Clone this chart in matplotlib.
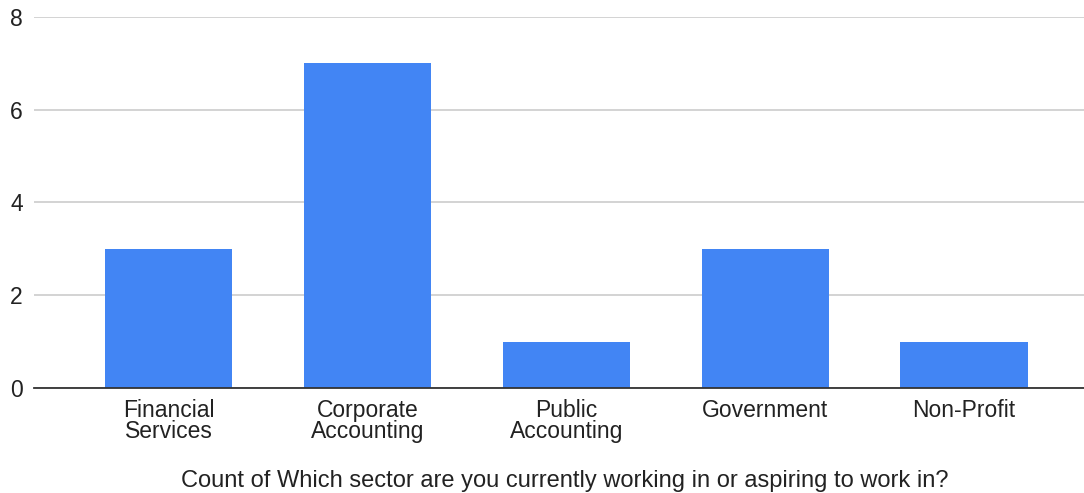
import matplotlib
matplotlib.use("Agg")
import matplotlib.pyplot as plt

# sector counts from the survey
sectors = ["Financial\nServices", "Corporate\nAccounting", "Public\nAccounting",
           "Government", "Non-Profit"]
counts = [3, 7, 1, 3, 1]
yticks = [0, 2, 4, 6, 8]
xtitle = "Count of Which sector are you currently working in or aspiring to work in?"

plt.rcParams["font.family"] = ["Liberation Sans", "DejaVu Sans"]

fig = plt.figure(figsize=(10.84, 4.93), dpi=100)
ax = fig.add_axes([0.0314, 0.213, 0.9686, 0.7525])

x = range(len(sectors))
ax.bar(x, counts, width=0.64, color="#4285F4", zorder=3)

ax.set_xlim(-0.676, 4.603)
ax.set_ylim(0, 8)
ax.set_yticks(yticks)
ax.grid(axis="y", color="#cccccc", linewidth=1.2, zorder=0)

ax.set_xticks(list(x))
ax.set_xticklabels(sectors, fontsize=16.5, color="#222222", linespacing=0.9)
ax.tick_params(axis="x", length=0, pad=8)
ax.tick_params(axis="y", length=0, pad=8, labelsize=16.5, labelcolor="#222222")

for side in ["top", "right", "left"]:
    ax.spines[side].set_visible(False)
ax.spines["bottom"].set_color("#333333")
ax.spines["bottom"].set_linewidth(1.3)
ax.spines["bottom"].set_zorder(4)

# axis title sits near the bottom edge of the figure
fig.text(0.521, 1 - 481 / 493, xtitle, fontsize=17, color="#222222",
         ha="center", va="center")

fig.savefig("out.png", dpi=100)
